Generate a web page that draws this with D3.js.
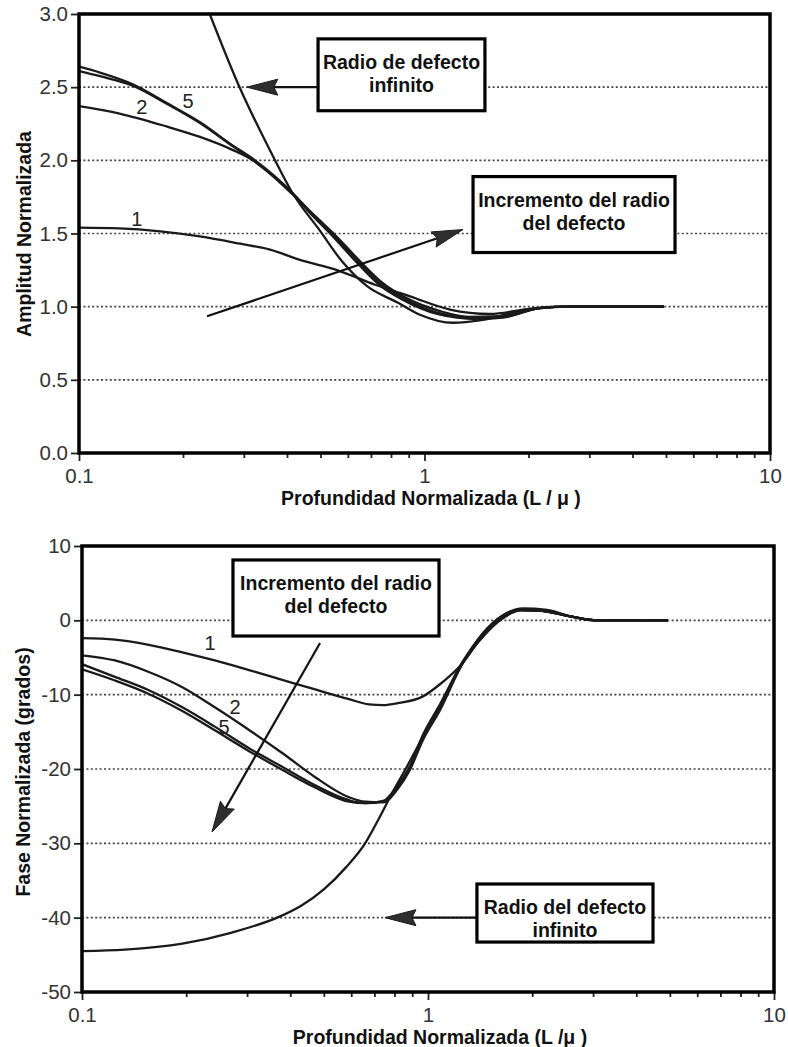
<!DOCTYPE html>
<html>
<head>
<meta charset="utf-8">
<script src="https://cdnjs.cloudflare.com/ajax/libs/d3/7.8.5/d3.min.js"></script>
<style>
  body { margin: 0; background: #fff; }
  svg { display: block; font-family: "Liberation Sans", Arial, sans-serif; }
</style>
</head>
<body>
<script>
// ---- amplitude (top chart), x = L/mu, y = normalized amplitude ----
var ampInfX = [0.239, 0.289, 0.364, 0.414, 0.498, 0.577, 0.682, 0.833, 0.970, 1.209, 1.477, 2.02, 2.47, 4.93];
var ampInfY = [3.00, 2.52, 2.03, 1.78, 1.52, 1.31, 1.14, 1.03, 0.945, 0.89, 0.91, 0.985, 1.0, 1.0];

var amp10X = [0.1, 0.115, 0.143, 0.180, 0.224, 0.279, 0.319, 0.414, 0.466, 0.533, 0.638, 0.743, 0.867, 1.087, 1.419, 1.687, 2.16, 2.64, 4.93];
var amp10Y = [2.64, 2.60, 2.52, 2.39, 2.26, 2.10, 2.01, 1.78, 1.65, 1.51, 1.32, 1.16, 1.06, 0.96, 0.925, 0.93, 0.99, 1.0, 1.0];

var amp5X = [0.1, 0.115, 0.143, 0.180, 0.224, 0.279, 0.319, 0.414, 0.466, 0.533, 0.638, 0.743, 0.867, 1.087, 1.419, 1.687, 2.16, 2.64, 4.93];
var amp5Y = [2.61, 2.575, 2.51, 2.385, 2.255, 2.095, 2.0, 1.775, 1.64, 1.50, 1.30, 1.145, 1.045, 0.95, 0.915, 0.925, 0.99, 1.0, 1.0];

var amp2X = [0.1, 0.131, 0.180, 0.224, 0.279, 0.319, 0.414, 0.482, 0.551, 0.651, 0.758, 0.884, 1.109, 1.354, 1.654, 2.16, 2.64, 4.93];
var amp2Y = [2.37, 2.32, 2.23, 2.16, 2.07, 2.00, 1.77, 1.62, 1.49, 1.31, 1.16, 1.06, 0.97, 0.93, 0.935, 0.99, 1.0, 1.0];

var amp1X = [0.1, 0.131, 0.172, 0.224, 0.293, 0.357, 0.436, 0.558, 0.719, 0.908, 1.185, 1.547, 2.02, 2.64, 4.93];
var amp1Y = [1.54, 1.535, 1.515, 1.48, 1.43, 1.39, 1.32, 1.25, 1.15, 1.07, 0.98, 0.95, 0.985, 1.0, 1.0];

// ---- phase (bottom chart), degrees ----
var phInfX = [0.1, 0.133, 0.195, 0.271, 0.371, 0.43, 0.50, 0.58, 0.658, 0.717, 0.797, 0.864, 1.0, 1.135, 1.262, 1.442, 1.647, 1.882, 2.208, 2.625, 3.0, 4.94];
var phInfY = [-44.5, -44.3, -43.5, -42.0, -39.9, -38.4, -36.2, -33.2, -30.0, -26.9, -22.8, -19.9, -14.4, -9.8, -5.7, -1.7, 0.7, 1.6, 1.4, 0.45, 0, 0];

var ph10X = [0.1, 0.1245, 0.156, 0.195, 0.242, 0.304, 0.379, 0.472, 0.591, 0.658, 0.742, 0.814, 0.887, 0.967, 1.083, 1.262, 1.442, 1.615, 1.845, 2.107, 2.625, 3.07, 4.94];
var ph10Y = [-6.6, -8.1, -9.9, -12.2, -14.8, -17.6, -20.1, -22.5, -24.4, -24.6, -24.3, -22.3, -19.6, -15.4, -11.3, -5.5, -1.8, 0.4, 1.4, 1.3, 0.45, 0, 0];

var ph5X = [0.1, 0.1245, 0.156, 0.195, 0.242, 0.304, 0.379, 0.472, 0.591, 0.658, 0.742, 0.814, 0.887, 0.967, 1.083, 1.262, 1.442, 1.615, 1.845, 2.107, 2.625, 3.07, 4.94];
var ph5Y = [-5.9, -7.6, -9.4, -11.7, -14.3, -17.2, -19.7, -22.2, -24.2, -24.6, -24.4, -22.5, -19.8, -15.7, -11.6, -5.6, -1.9, 0.3, 1.4, 1.3, 0.45, 0, 0];

var ph2X = [0.1, 0.1245, 0.156, 0.195, 0.242, 0.304, 0.379, 0.472, 0.591, 0.658, 0.742, 0.814, 0.887, 0.967, 1.083, 1.262, 1.442, 1.615, 1.845, 2.107, 2.625, 3.07, 4.94];
var ph2Y = [-4.7, -5.4, -6.95, -9.0, -11.7, -14.75, -17.85, -21.1, -23.8, -24.4, -24.5, -22.8, -20.1, -16.1, -12.1, -5.7, -2.2, 0.0, 1.3, 1.3, 0.45, 0, 0];

var ph1X = [0.1, 0.1245, 0.156, 0.195, 0.242, 0.304, 0.379, 0.472, 0.591, 0.675, 0.742, 0.825, 0.961, 1.083, 1.262, 1.442, 1.615, 1.845, 2.107, 2.625, 3.07, 4.94];
var ph1Y = [-2.4, -2.6, -3.3, -4.3, -5.4, -6.7, -8.0, -9.3, -10.6, -11.3, -11.4, -11.1, -10.3, -8.6, -5.7, -2.0, 0.3, 1.4, 1.3, 0.45, 0, 0];

// ---- ticks ----
var xTicks = [0.1, 1, 10];
var xTickLabels = ["0.1", "1", "10"];
var ampTicks = [0, 0.5, 1, 1.5, 2, 2.5, 3];
var ampTickLabels = ["0.0", "0.5", "1.0", "1.5", "2.0", "2.5", "3.0"];
var ampGrid = [0.5, 1, 1.5, 2, 2.5];
var phTicks = [-50, -40, -30, -20, -10, 0, 10];
var phTickLabels = ["-50", "-40", "-30", "-20", "-10", "0", "10"];
var phGrid = [-40, -30, -20, -10, 0];

// curve labels [x, y, text]
var ampLabels = [[0.147, 1.60, "1"], [0.152, 2.366, "2"], [0.207, 2.407, "5"]];
var phLabels = [[0.2344, -3.05, "1"], [0.2768, -11.66, "2"], [0.2573, -14.35, "5"]];

var W = 788, H = 1047;
var svg = d3.select("body").append("svg").attr("width", W).attr("height", H);

function drawPanel(cfg) {
    var x = d3.scaleLog().domain([0.1, 10]).range([cfg.left, cfg.right]);
    var y = d3.scaleLinear().domain(cfg.yDomain).range([cfg.bottom, cfg.top]);
    var g = svg.append("g");

    g.append("clipPath").attr("id", "clip" + cfg.id)
        .append("rect")
        .attr("x", cfg.left).attr("y", cfg.top)
        .attr("width", cfg.right - cfg.left).attr("height", cfg.bottom - cfg.top);

    // dotted grid
    g.selectAll(".grid").data(cfg.grid).enter()
        .append("line")
        .attr("x1", cfg.left).attr("x2", cfg.right)
        .attr("y1", function(d) { return y(d); })
        .attr("y2", function(d) { return y(d); })
        .attr("stroke", "#444")
        .attr("stroke-width", 1.7)
        .attr("stroke-dasharray", "2,2.4");

    // boxes (white, hide grid behind them)
    cfg.boxes.forEach(function(b) {
        var x0 = x(b.x0), x1 = x(b.x1), y0 = y(b.y0), y1 = y(b.y1);
        g.append("rect")
            .attr("x", x0).attr("y", y0)
            .attr("width", x1 - x0).attr("height", y1 - y0)
            .attr("fill", "#fff").attr("stroke", "#000").attr("stroke-width", 3.2);
        b.lines.forEach(function(t, i) {
            g.append("text")
                .attr("x", (x0 + x1) / 2)
                .attr("y", y0 + 30 + i * 23)
                .attr("text-anchor", "middle")
                .attr("font-size", "19.5px")
                .attr("font-weight", "bold")
                .attr("fill", "#111")
                .text(t);
        });
    });

    // curves
    var line = d3.line()
        .x(function(d) { return x(d[0]); })
        .y(function(d) { return y(d[1]); })
        .curve(d3.curveMonotoneX);

    cfg.series.forEach(function(s) {
        g.append("path")
            .datum(d3.zip(s[0], s[1]))
            .attr("d", line)
            .attr("fill", "none")
            .attr("stroke", "#1a1a1a")
            .attr("stroke-width", 2.3)
            .attr("stroke-linejoin", "round")
            .attr("clip-path", "url(#clip" + cfg.id + ")");
    });

    // arrows
    cfg.arrows.forEach(function(a) {
        var tx = x(a.x0), ty = y(a.y0), hx = x(a.x1), hy = y(a.y1);
        var dx = hx - tx, dy = hy - ty, len = Math.sqrt(dx * dx + dy * dy);
        var ux = dx / len, uy = dy / len, nx = -uy, ny = ux;
        var hl = 31, hw = 8;
        var bx = hx - ux * hl, by = hy - uy * hl;
        g.append("line")
            .attr("x1", tx).attr("y1", ty).attr("x2", bx + ux * 4).attr("y2", by + uy * 4)
            .attr("stroke", "#111").attr("stroke-width", 2.2);
        g.append("path")
            .attr("d", "M" + hx + "," + hy +
                "L" + (bx + nx * hw) + "," + (by + ny * hw) +
                "L" + (bx + ux * 4) + "," + (by + uy * 4) +
                "L" + (bx - nx * hw) + "," + (by - ny * hw) + "Z")
            .attr("fill", "#2e2e2e").attr("stroke", "#1a1a1a").attr("stroke-width", 1);
    });

    // curve labels
    g.selectAll(".clab").data(cfg.labels).enter()
        .append("text")
        .attr("x", function(d) { return x(d[0]); })
        .attr("y", function(d) { return y(d[1]) + 7; })
        .attr("text-anchor", "middle")
        .attr("font-size", "20px")
        .attr("fill", "#222")
        .text(function(d) { return d[2]; });

    // axes
    var yAxis = d3.axisLeft(y)
        .tickValues(cfg.yTicks)
        .tickFormat(function(d, i) { return cfg.yTickLabels[i]; })
        .tickSize(8).tickPadding(3);
    var ya = g.append("g").attr("transform", "translate(" + cfg.left + ",0)").call(yAxis);

    var xAxis = d3.axisBottom(x)
        .tickValues(xTicks)
        .tickFormat(function(d, i) { return xTickLabels[i]; })
        .tickSize(8).tickPadding(7);
    var xa = g.append("g").attr("transform", "translate(0," + cfg.bottom + ")").call(xAxis);

    var minor = x.ticks().filter(function(d) { return xTicks.indexOf(d) < 0; });
    var xm = g.append("g").attr("transform", "translate(0," + cfg.bottom + ")")
        .call(d3.axisBottom(x).tickValues(minor).tickFormat("").tickSize(5));

    [ya, xa, xm].forEach(function(a) {
        a.select(".domain").remove();
        a.selectAll("line").attr("stroke", "#222").attr("stroke-width", 1.8);
        a.selectAll("text")
            .attr("font-size", "20.5px")
            .attr("font-family", "Liberation Sans, Arial, sans-serif")
            .attr("fill", "#333");
    });

    // frame
    g.append("rect")
        .attr("x", cfg.left).attr("y", cfg.top)
        .attr("width", cfg.right - cfg.left).attr("height", cfg.bottom - cfg.top)
        .attr("fill", "none").attr("stroke", "#000").attr("stroke-width", 3.5);

    // titles
    g.append("text")
        .attr("x", cfg.xTitlePos[0]).attr("y", cfg.xTitlePos[1])
        .attr("text-anchor", "middle")
        .attr("font-size", "19.5px").attr("font-weight", "bold").attr("fill", "#111")
        .text(cfg.xTitle);
    g.append("text")
        .attr("transform", "translate(" + cfg.yTitlePos[0] + "," + cfg.yTitlePos[1] + ") rotate(-90)")
        .attr("text-anchor", "middle")
        .attr("font-size", "19.5px").attr("font-weight", "bold").attr("fill", "#111")
        .text(cfg.yTitle);
}

drawPanel({
    id: "amp",
    left: 79, right: 770, top: 14, bottom: 453,
    yDomain: [0, 3],
    yTicks: ampTicks, yTickLabels: ampTickLabels, grid: ampGrid,
    series: [[ampInfX, ampInfY], [amp10X, amp10Y], [amp5X, amp5Y], [amp2X, amp2Y], [amp1X, amp1Y]],
    labels: ampLabels,
    boxes: [
        { x0: 0.492, x1: 1.496, y0: 2.83, y1: 2.339, lines: ["Radio de defecto", "infinito"] },
        { x0: 1.382, x1: 5.31, y0: 1.889, y1: 1.37, lines: ["Incremento del radio", "del defecto"] }
    ],
    arrows: [
        { x0: 0.492, y0: 2.5, x1: 0.306, y1: 2.5 },
        { x0: 0.2347, y0: 0.934, x1: 1.292, y1: 1.527 }
    ],
    xTitle: "Profundidad Normalizada (L / \u03bc )",
    xTitlePos: [431, 505],
    yTitle: "Amplitud Normalizada",
    yTitlePos: [31, 234]
});

drawPanel({
    id: "ph",
    left: 82, right: 774, top: 546, bottom: 992,
    yDomain: [-50, 10],
    yTicks: phTicks, yTickLabels: phTickLabels, grid: phGrid,
    series: [[phInfX, phInfY], [ph10X, ph10Y], [ph5X, ph5Y], [ph2X, ph2Y], [ph1X, ph1Y]],
    labels: phLabels,
    boxes: [
        { x0: 0.2731, x1: 1.076, y0: 8.12, y1: -2.11, lines: ["Incremento del radio", "del defecto"] },
        { x0: 1.385, x1: 4.47, y0: -35.47, y1: -43.28, lines: ["Radio del defecto", "infinito"] }
    ],
    arrows: [
        { x0: 0.4875, y0: -3.05, x1: 0.2375, y1: -28.48 },
        { x0: 1.385, y0: -40, x1: 0.751, y1: -40 }
    ],
    xTitle: "Profundidad Normalizada (L /\u03bc )",
    xTitlePos: [440, 1044],
    yTitle: "Fase Normalizada (grados)",
    yTitlePos: [30, 772]
});
</script>
</body>
</html>
